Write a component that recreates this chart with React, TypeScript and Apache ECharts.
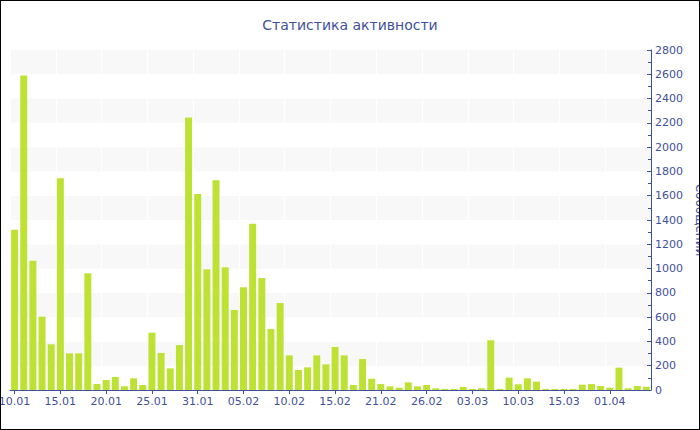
import React, { useEffect, useRef } from "react";
import * as echarts from "echarts";

const TITLE = "Статистика активности";
const Y_NAME = "Сообщений";

const dates = [
  "10.01", "11.01", "12.01", "13.01", "14.01",
  "15.01", "16.01", "17.01", "18.01", "19.01",
  "20.01", "21.01", "22.01", "23.01", "24.01",
  "25.01", "26.01", "27.01", "28.01", "30.01",
  "31.01", "01.02", "02.02", "03.02", "04.02",
  "05.02", "06.02", "07.02", "08.02", "09.02",
  "10.02", "11.02", "12.02", "13.02", "14.02",
  "15.02", "16.02", "17.02", "18.02", "20.02",
  "21.02", "22.02", "23.02", "24.02", "25.02",
  "26.02", "27.02", "28.02", "01.03", "02.03",
  "03.03", "04.03", "06.03", "07.03", "09.03",
  "10.03", "11.03", "12.03", "13.03", "14.03",
  "15.03", "17.03", "20.03", "25.03", "29.03",
  "01.04", "02.04", "03.04", "04.04", "05.04",
];

const messages = [
  1320, 2590, 1065, 604, 376,
  1743, 302, 302, 961, 49,
  82, 107, 30, 96, 41,
  472, 305, 178, 370, 2245,
  1614, 994, 1727, 1010, 659,
  846, 1370, 922, 502, 716,
  285, 165, 187, 285, 211,
  354, 285, 41, 255, 93,
  49, 30, 19, 63, 30,
  41, 14, 9, 9, 25,
  9, 14, 409, 9, 102,
  47, 96, 69, 9, 9,
  9, 9, 44, 49, 33,
  19, 184, 14, 33, 27,
];

const BLUE = "#3f519c";

export default function App() {
  const ref = useRef<HTMLDivElement>(null);

  useEffect(() => {
    document.body.style.margin = "0";
    if (!ref.current) return;
    const chart = echarts.init(ref.current, undefined, { renderer: "svg" });
    chart.setOption({
      animation: false,
      backgroundColor: "#ffffff",
      title: {
        text: TITLE,
        left: "center",
        top: 12,
        textStyle: {
          color: BLUE,
          fontFamily: "DejaVu Sans",
          fontSize: 14,
          fontWeight: "normal",
        },
      },
      grid: {
        left: 9,
        right: 48,
        top: 49,
        bottom: 39,
        containLabel: false,
        outerBoundsMode: "none",
      },
      xAxis: {
        type: "category",
        data: dates,
        boundaryGap: true,
        axisLine: { lineStyle: { color: BLUE, width: 1 } },
        axisTick: {
          show: true,
          interval: 4,
          alignWithLabel: true,
          length: 4,
          lineStyle: { color: BLUE },
        },
        axisLabel: {
          interval: 4,
          color: BLUE,
          fontFamily: "DejaVu Sans",
          fontSize: 11,
          margin: 6,
          hideOverlap: false,
        },
        splitLine: {
          show: true,
          interval: 4,
          lineStyle: { color: "#ffffff", width: 1 },
        },
      },
      yAxis: {
        type: "value",
        position: "right",
        min: 0,
        max: 2800,
        interval: 200,
        name: Y_NAME,
        nameLocation: "middle",
        nameRotate: -90,
        nameGap: 41,
        nameTextStyle: {
          color: BLUE,
          fontFamily: "DejaVu Sans",
          fontSize: 12,
        },
        axisLine: { show: true, lineStyle: { color: BLUE, width: 1 } },
        axisTick: {
          show: true,
          inside: true,
          length: 4,
          lineStyle: { color: BLUE },
        },
        minorTick: {
          show: true,
          splitNumber: 2,
          length: 3,
          lineStyle: { color: BLUE },
        },
        axisLabel: {
          color: BLUE,
          fontFamily: "DejaVu Sans",
          fontSize: 11,
          margin: 4,
          formatter: (v: number) => String(v),
        },
        splitLine: { show: false },
        splitArea: {
          show: true,
          areaStyle: { color: ["#ffffff", "#f8f8f8"] },
        },
      },
      series: [
        {
          type: "bar",
          name: Y_NAME,
          data: messages,
          barCategoryGap: "24%",
          itemStyle: { color: "#bde234" },
        },
      ],
    });
    return () => chart.dispose();
  }, []);

  return (
    <div
      style={{
        width: 700,
        height: 430,
        border: "1px solid #000",
        boxSizing: "border-box",
        overflow: "hidden",
      }}
    >
      <div ref={ref} style={{ width: 698, height: 428 }} />
    </div>
  );
}
